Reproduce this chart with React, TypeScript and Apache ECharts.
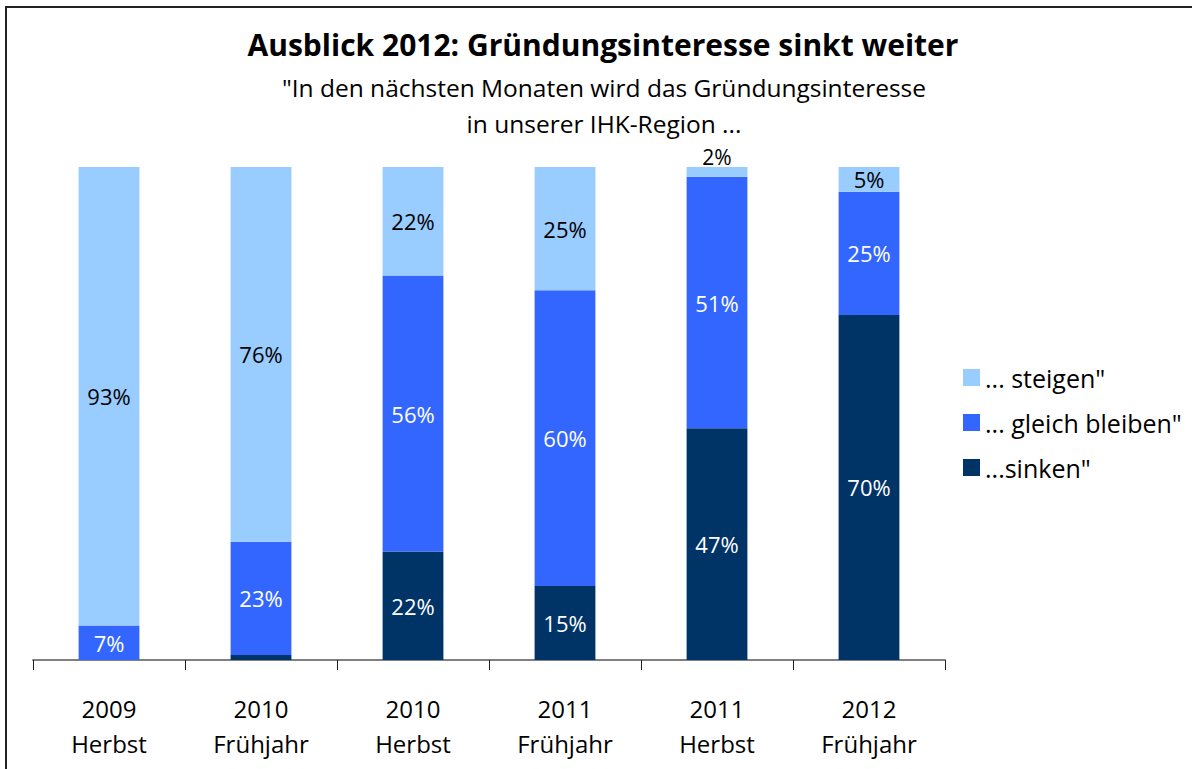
import React, { useEffect, useRef } from "react";
import * as echarts from "echarts";

const categories = ["2009\nHerbst", "2010\nFrühjahr", "2010\nHerbst", "2011\nFrühjahr", "2011\nHerbst", "2012\nFrühjahr"];
const sinken = [0, 1, 22, 15, 47, 70];
const gleich = [7, 23, 56, 60, 51, 25];
const steigen = [93, 76, 22, 25, 2, 5];
const seriesNames = ["... steigen\"", "... gleich bleiben\"", "...sinken\""];
const titleText = "Ausblick 2012: Gründungsinteresse sinkt weiter";
const subtitleLines = ["\"In den nächsten Monaten wird das Gründungsinteresse", "in unserer IHK-Region ..."];

const FONT = "Open Sans";

export default function App() {
  const ref = useRef<HTMLDivElement>(null);
  useEffect(() => {
    document.body.style.margin = "0";
    const chart = echarts.init(ref.current!, null, { renderer: "svg" });
    const labelBase = {
      show: true,
      position: "inside",
      fontFamily: FONT,
      fontSize: 22,
      formatter: (p: any) => (p.value >= 2 ? p.value + "%" : ""),
    };
    chart.setOption({
      animation: false,
      backgroundColor: "#ffffff",
      title: [
        {
          text: titleText,
          left: 603,
          textAlign: "center",
          top: 29,
          padding: 0,
          textStyle: { fontFamily: FONT, fontSize: 30, fontWeight: "bold", color: "#000" },
        },
        {
          text: subtitleLines[0],
          left: 604,
          textAlign: "center",
          top: 74,
          padding: 0,
          textStyle: { fontFamily: FONT, fontSize: 24.5, fontWeight: "normal", color: "#000", lineHeight: 26 },
        },
        {
          text: subtitleLines[1],
          left: 604,
          textAlign: "center",
          top: 111,
          padding: 0,
          textStyle: { fontFamily: FONT, fontSize: 24.5, fontWeight: "normal", color: "#000", lineHeight: 24 },
        },
      ],
      graphic: [
        {
          type: "rect",
          shape: { x: 6, y: 7, width: 1300, height: 900 },
          style: { fill: "none", stroke: "#222", lineWidth: 2 },
          silent: true,
        },
      ],
      legend: {
        left: 958,
        top: 360,
        orient: "vertical",
        itemWidth: 17,
        itemHeight: 17,
        itemGap: 20,
        icon: "rect",
        data: seriesNames,
        textStyle: { fontFamily: FONT, fontSize: 25, lineHeight: 20, color: "#000", padding: [0, 0, 0, 0] },
      },
      grid: { left: 33, right: 247, top: 167, bottom: 109, containLabel: false },
      xAxis: {
        type: "category",
        data: categories,
        axisLine: { lineStyle: { color: "#808080", width: 2 } },
        axisTick: { show: true, length: 10, lineStyle: { color: "#222", width: 1 } },
        axisLabel: { fontFamily: FONT, fontSize: 24, color: "#000", lineHeight: 35, margin: 31, interval: 0 },
      },
      yAxis: { type: "value", min: 0, max: 100, show: false, splitLine: { show: false } },
      series: [
        {
          name: seriesNames[2],
          type: "bar",
          stack: "a",
          barWidth: "40%",
          data: sinken,
          itemStyle: { color: "#003366" },
          label: { ...labelBase, color: "#fff" },
        },
        {
          name: seriesNames[1],
          type: "bar",
          stack: "a",
          data: gleich,
          itemStyle: { color: "#3366FF" },
          label: { ...labelBase, color: "#fff" },
        },
        {
          name: seriesNames[0],
          type: "bar",
          stack: "a",
          data: steigen.map((v) =>
            v < 4 ? { value: v, label: { position: "top", distance: 1, fontSize: 21, lineHeight: 18 } } : v
          ),
          itemStyle: { color: "#99CCFF" },
          label: { ...labelBase, color: "#000" },
        },
      ],
    });
    return () => chart.dispose();
  }, []);
  return <div ref={ref} style={{ width: 1192, height: 769 }} />;
}
